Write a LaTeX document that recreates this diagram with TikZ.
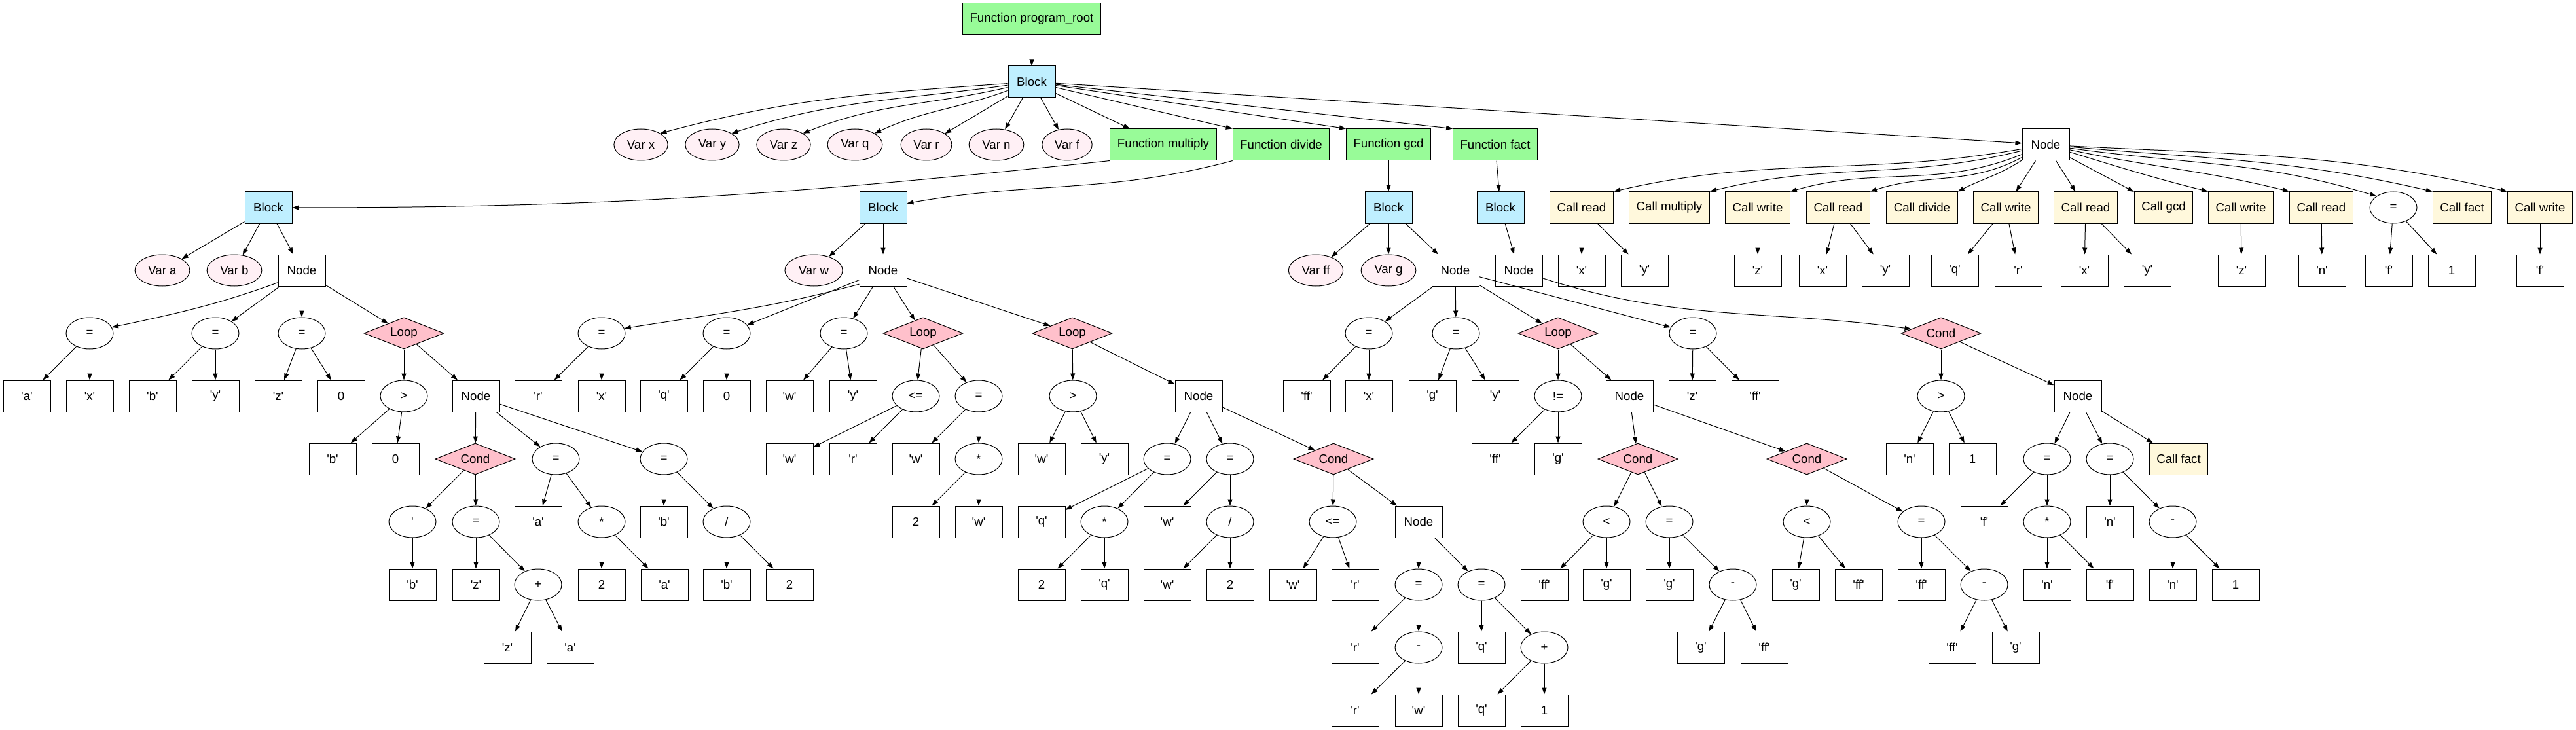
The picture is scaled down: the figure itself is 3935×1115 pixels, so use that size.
\documentclass[tikz,border=0pt]{standalone}
\usepackage{fontspec}
\newfontfamily\gvfont{Liberation Sans}
\usetikzlibrary{arrows.meta,shapes.geometric}
\definecolor{fngreen}{HTML}{98FB98}
\definecolor{blkblue}{HTML}{BFEFFF}
\definecolor{varpink}{HTML}{FFF0F5}
\definecolor{ctlpink}{HTML}{FFC0CB}
\definecolor{callyellow}{HTML}{FFF8DC}
\newcommand{\lit}[1]{\textquotesingle#1\textquotesingle}
\tikzset{
  every node/.style={font=\gvfont\fontsize{18.67pt}{22pt}\selectfont},
  nodebox/.style={draw, rectangle, minimum width=72pt, minimum height=48pt, inner xsep=11pt, inner ysep=0pt},
  fnbox/.style={nodebox, fill=fngreen},
  blkbox/.style={nodebox, fill=blkblue},
  callbox/.style={nodebox, fill=callyellow},
  opnode/.style={draw, ellipse, minimum width=72pt, minimum height=48pt, inner xsep=8pt, inner ysep=0pt},
  varnode/.style={opnode, fill=varpink},
  ctlnode/.style={draw, diamond, aspect=2.5, minimum width=122pt, minimum height=48pt, inner sep=0pt, fill=ctlpink},
  link/.style={-{Triangle[length=10pt,width=7pt]}},
}
\begin{document}
\begin{tikzpicture}[x=1pt,y=1pt,line width=1pt]
  \useasboundingbox (0,0) rectangle (3935,-1115);
  % rows 0-2
  \node[fnbox] (root) at (1576,-29) {Function program\_root};
  \node[blkbox] (blk0) at (1576,-125) {Block};
  \node[varnode] (vx) at (979,-221) {Var x};
  \node[varnode] (vy) at (1088,-221) {Var y};
  \node[varnode] (vz) at (1197,-221) {Var z};
  \node[varnode] (vq) at (1306,-221) {Var q};
  \node[varnode] (vr) at (1415,-221) {Var r};
  \node[varnode] (vn) at (1522,-221) {Var n};
  \node[varnode] (vf) at (1630,-221) {Var f};
  \node[fnbox] (fmul) at (1777,-221) {Function multiply};
  \node[fnbox] (fdiv) at (1957,-221) {Function divide};
  \node[fnbox] (fgcd) at (2121,-221) {Function gcd};
  \node[fnbox] (ffact) at (2284,-221) {Function fact};
  \node[nodebox] (nmain) at (3125,-221) {Node};
  % row 3
  \node[blkbox] (bmul) at (410,-317) {Block};
  \node[blkbox] (bdiv) at (1349,-317) {Block};
  \node[blkbox] (bgcd) at (2121,-317) {Block};
  \node[blkbox] (bfact) at (2292,-317) {Block};
  \node[callbox] (c1) at (2416,-317) {Call read};
  \node[callbox] (c2) at (2550,-317) {Call multiply};
  \node[callbox] (c3) at (2685,-317) {Call write};
  \node[callbox] (c4) at (2808,-317) {Call read};
  \node[callbox] (c5) at (2936,-317) {Call divide};
  \node[callbox] (c6) at (3064,-317) {Call write};
  \node[callbox] (c7) at (3186,-317) {Call read};
  \node[callbox] (c8) at (3305,-317) {Call gcd};
  \node[callbox] (c9) at (3423,-317) {Call write};
  \node[callbox] (c10) at (3546,-317) {Call read};
  \node[opnode] (asg) at (3656,-317) {=};
  \node[callbox] (c11) at (3761,-317) {Call fact};
  \node[callbox] (c12) at (3880,-317) {Call write};
  % row 4
  \node[varnode] (va) at (248,-413) {Var a};
  \node[varnode] (vb) at (358,-413) {Var b};
  \node[nodebox] (nmul) at (461,-413) {Node};
  \node[varnode] (vw) at (1243,-413) {Var w};
  \node[nodebox] (ndiv) at (1349,-413) {Node};
  \node[varnode] (vff) at (2010,-413) {Var ff};
  \node[varnode] (vg) at (2121,-413) {Var g};
  \node[nodebox] (ngcd) at (2223,-413) {Node};
  \node[nodebox] (nfact) at (2320,-413) {Node};
  \node[nodebox] (c1a) at (2416,-413) {\lit{x}};
  \node[nodebox] (c1b) at (2512,-413) {\lit{y}};
  \node[nodebox] (c3a) at (2685,-413) {\lit{z}};
  \node[nodebox] (c4a) at (2784,-413) {\lit{x}};
  \node[nodebox] (c4b) at (2880,-413) {\lit{y}};
  \node[nodebox] (c6a) at (2986,-413) {\lit{q}};
  \node[nodebox] (c6b) at (3083,-413) {\lit{r}};
  \node[nodebox] (c7a) at (3184,-413) {\lit{x}};
  \node[nodebox] (c7b) at (3280,-413) {\lit{y}};
  \node[nodebox] (c9a) at (3424,-413) {\lit{z}};
  \node[nodebox] (c10a) at (3547,-413) {\lit{n}};
  \node[nodebox] (asga) at (3649,-413) {\lit{f}};
  \node[nodebox] (asgb) at (3745,-413) {1};
  \node[nodebox] (c12a) at (3880,-413) {\lit{f}};
  % row 5
  \node[opnode] (m1) at (137,-509) {=};
  \node[opnode] (m2) at (329,-509) {=};
  \node[opnode] (m3) at (461,-509) {=};
  \node[ctlnode] (mloop) at (617,-509) {Loop};
  \node[opnode] (d1) at (919,-509) {=};
  \node[opnode] (d2) at (1110,-509) {=};
  \node[opnode] (d3) at (1289,-509) {=};
  \node[ctlnode] (dloop1) at (1410,-509) {Loop};
  \node[ctlnode] (dloop2) at (1638,-509) {Loop};
  \node[opnode] (g1) at (2091,-509) {=};
  \node[opnode] (g2) at (2224,-509) {=};
  \node[ctlnode] (gloop) at (2380,-509) {Loop};
  \node[opnode] (g3) at (2586,-509) {=};
  \node[ctlnode] (fcond) at (2965,-509) {Cond};
  % row 6
  \node[nodebox] (m1a) at (41,-605) {\lit{a}};
  \node[nodebox] (m1b) at (137,-605) {\lit{x}};
  \node[nodebox] (m2a) at (233,-605) {\lit{b}};
  \node[nodebox] (m2b) at (329,-605) {\lit{y}};
  \node[nodebox] (m3a) at (425,-605) {\lit{z}};
  \node[nodebox] (m3b) at (521,-605) {0};
  \node[opnode] (mgt) at (617,-605) {>};
  \node[nodebox] (mnode) at (727,-605) {Node};
  \node[nodebox] (d1a) at (822,-605) {\lit{r}};
  \node[nodebox] (d1b) at (919,-605) {\lit{x}};
  \node[nodebox] (d2a) at (1014,-605) {\lit{q}};
  \node[nodebox] (d2b) at (1110,-605) {0};
  \node[nodebox] (d3a) at (1206,-605) {\lit{w}};
  \node[nodebox] (d3b) at (1303,-605) {\lit{y}};
  \node[opnode] (dle) at (1399,-605) {<=};
  \node[opnode] (dset) at (1495,-605) {=};
  \node[opnode] (dgt) at (1639,-605) {>};
  \node[nodebox] (dnode) at (1831,-605) {Node};
  \node[nodebox] (g1a) at (1996,-605) {\lit{ff}};
  \node[nodebox] (g1b) at (2091,-605) {\lit{x}};
  \node[nodebox] (g2a) at (2188,-605) {\lit{g}};
  \node[nodebox] (g2b) at (2284,-605) {\lit{y}};
  \node[opnode] (gne) at (2380,-605) {!=};
  \node[nodebox] (gnode) at (2489,-605) {Node};
  \node[nodebox] (g3a) at (2585,-605) {\lit{z}};
  \node[nodebox] (g3b) at (2681,-605) {\lit{ff}};
  \node[opnode] (fgt) at (2965,-605) {>};
  \node[nodebox] (fnode) at (3174,-605) {Node};
  % row 7
  \node[nodebox] (mgta) at (508,-701) {\lit{b}};
  \node[nodebox] (mgtb) at (604,-701) {0};
  \node[ctlnode] (mcond) at (726,-701) {Cond};
  \node[opnode] (ma) at (849,-701) {=};
  \node[opnode] (mb) at (1014,-701) {=};
  \node[nodebox] (dlea) at (1206,-701) {\lit{w}};
  \node[nodebox] (dleb) at (1303,-701) {\lit{r}};
  \node[nodebox] (dseta) at (1399,-701) {\lit{w}};
  \node[opnode] (dmul) at (1495,-701) {*};
  \node[nodebox] (dgta) at (1591,-701) {\lit{w}};
  \node[nodebox] (dgtb) at (1687,-701) {\lit{y}};
  \node[opnode] (dq) at (1783,-701) {=};
  \node[opnode] (dr) at (1879,-701) {=};
  \node[ctlnode] (dcond) at (2037,-701) {Cond};
  \node[nodebox] (gnea) at (2284,-701) {\lit{ff}};
  \node[nodebox] (gneb) at (2380,-701) {\lit{g}};
  \node[ctlnode] (gc1) at (2502,-701) {Cond};
  \node[ctlnode] (gc2) at (2760,-701) {Cond};
  \node[nodebox] (fgta) at (2917,-701) {\lit{n}};
  \node[nodebox] (fgtb) at (3013,-701) {1};
  \node[opnode] (ff1) at (3127,-701) {=};
  \node[opnode] (fn1) at (3223,-701) {=};
  \node[callbox] (fcall) at (3328,-701) {Call fact};
  % row 8
  \node[opnode] (mnot) at (630,-797) {\textquotesingle};
  \node[opnode] (mz) at (727,-797) {=};
  \node[nodebox] (maa) at (822,-797) {\lit{a}};
  \node[opnode] (mmul) at (919,-797) {*};
  \node[nodebox] (mba) at (1014,-797) {\lit{b}};
  \node[opnode] (mdv) at (1110,-797) {/};
  \node[nodebox] (dmula) at (1399,-797) {2};
  \node[nodebox] (dmulb) at (1495,-797) {\lit{w}};
  \node[nodebox] (dqa) at (1591,-797) {\lit{q}};
  \node[opnode] (dqm) at (1687,-797) {*};
  \node[nodebox] (dra) at (1783,-797) {\lit{w}};
  \node[opnode] (drd) at (1879,-797) {/};
  \node[opnode] (dle2) at (2036,-797) {<=};
  \node[nodebox] (dnode2) at (2167,-797) {Node};
  \node[opnode] (glt1) at (2454,-797) {<};
  \node[opnode] (gset1) at (2550,-797) {=};
  \node[opnode] (glt2) at (2760,-797) {<};
  \node[opnode] (gset2) at (2935,-797) {=};
  \node[nodebox] (ff1a) at (3031,-797) {\lit{f}};
  \node[opnode] (fmul2) at (3127,-797) {*};
  \node[nodebox] (fn1a) at (3223,-797) {\lit{n}};
  \node[opnode] (fsub) at (3319,-797) {-};
  % row 9
  \node[nodebox] (mnota) at (630,-893) {\lit{b}};
  \node[nodebox] (mza) at (727,-893) {\lit{z}};
  \node[opnode] (madd) at (822,-893) {+};
  \node[nodebox] (mmula) at (919,-893) {2};
  \node[nodebox] (mmulb) at (1015,-893) {\lit{a}};
  \node[nodebox] (mdva) at (1110,-893) {\lit{b}};
  \node[nodebox] (mdvb) at (1206,-893) {2};
  \node[nodebox] (dqma) at (1591,-893) {2};
  \node[nodebox] (dqmb) at (1687,-893) {\lit{q}};
  \node[nodebox] (drda) at (1783,-893) {\lit{w}};
  \node[nodebox] (drdb) at (1879,-893) {2};
  \node[nodebox] (dle2a) at (1975,-893) {\lit{w}};
  \node[nodebox] (dle2b) at (2070,-893) {\lit{r}};
  \node[opnode] (dr2) at (2167,-893) {=};
  \node[opnode] (dq2) at (2263,-893) {=};
  \node[nodebox] (glt1a) at (2359,-893) {\lit{ff}};
  \node[nodebox] (glt1b) at (2454,-893) {\lit{g}};
  \node[nodebox] (gset1a) at (2550,-893) {\lit{g}};
  \node[opnode] (gsub1) at (2647,-893) {-};
  \node[nodebox] (glt2a) at (2743,-893) {\lit{g}};
  \node[nodebox] (glt2b) at (2839,-893) {\lit{ff}};
  \node[nodebox] (gset2a) at (2935,-893) {\lit{ff}};
  \node[opnode] (gsub2) at (3031,-893) {-};
  \node[nodebox] (fmul2a) at (3127,-893) {\lit{n}};
  \node[nodebox] (fmul2b) at (3223,-893) {\lit{f}};
  \node[nodebox] (fsuba) at (3319,-893) {\lit{n}};
  \node[nodebox] (fsubb) at (3415,-893) {1};
  % row 10
  \node[nodebox] (madda) at (775,-989) {\lit{z}};
  \node[nodebox] (maddb) at (871,-989) {\lit{a}};
  \node[nodebox] (dr2a) at (2070,-989) {\lit{r}};
  \node[opnode] (dsub) at (2167,-989) {-};
  \node[nodebox] (dq2a) at (2263,-989) {\lit{q}};
  \node[opnode] (dadd) at (2359,-989) {+};
  \node[nodebox] (gsub1a) at (2598,-989) {\lit{g}};
  \node[nodebox] (gsub1b) at (2695,-989) {\lit{ff}};
  \node[nodebox] (gsub2a) at (2982,-989) {\lit{ff}};
  \node[nodebox] (gsub2b) at (3079,-989) {\lit{g}};
  % row 11
  \node[nodebox] (dsuba) at (2070,-1085) {\lit{r}};
  \node[nodebox] (dsubb) at (2167,-1085) {\lit{w}};
  \node[nodebox] (dadda) at (2263,-1085) {\lit{q}};
  \node[nodebox] (daddb) at (2359,-1085) {1};

  % edges: top
  \draw[link] (root) -- (blk0);
  \draw[link] (blk0.184) .. controls +(184:210) and +(15:210) .. (vx.north east);
  \draw[link] (blk0.188) .. controls +(188:168) and +(18:168) .. (vy.north east);
  \draw[link] (blk0.193) .. controls +(193:125) and +(22:125) .. (vz.north east);
  \draw[link] (blk0.200) .. controls +(200:85) and +(25:85) .. (vq.north east);
  \draw[link] (blk0) -- (vr);
  \draw[link] (blk0) -- (vn);
  \draw[link] (blk0) -- (vf);
  \draw[link] (blk0) -- (fmul);
  \draw[link] (blk0) -- (fdiv.north west);
  \draw[link] (blk0) -- (fgcd.north west);
  \draw[link] (blk0) -- (ffact.north west);
  \draw[link] (blk0) -- (nmain);
  \draw[link] (fmul.south west) .. controls +(186:490) and +(0:490) .. (bmul.east);
  \draw[link] (fdiv.south west) .. controls +(195:196) and +(10:196) .. (bdiv.10);
  \draw[link] (fgcd) -- (bgcd);
  \draw[link] (ffact) -- (bfact);
  % edges: calls
  \draw[link] (nmain.190) .. controls +(190:245) and +(13:245) .. (c1.north east);
  \draw[link] (nmain.194) .. controls +(194:188) and +(14:188) .. (c2.north east);
  \draw[link] (nmain.202) .. controls +(202:141) and +(16:141) .. (c3.north east);
  \draw[link] (nmain.208) .. controls +(208:93) and +(18:93) .. (c4.north east);
  \draw[link] (nmain.213) .. controls +(213:43) and +(27:43) .. (c5.north east);
  \draw[link] (nmain) -- (c6);
  \draw[link] (nmain) -- (c7);
  \draw[link] (nmain) -- (c8);
  \draw[link] (nmain.343) .. controls +(343:87) and +(166:87) .. (c9.north west);
  \draw[link] (nmain.348) .. controls +(348:134) and +(166:134) .. (c10.north west);
  \draw[link] (nmain.352) .. controls +(352:186) and +(163:186) .. (asg.north west);
  \draw[link] (nmain.355) .. controls +(355:219) and +(167:219) .. (c11.north west);
  \draw[link] (nmain.357) .. controls +(357:263) and +(167:263) .. (c12.north west);
  \draw[link] (c1) -- (c1a);
  \draw[link] (c1) -- (c1b);
  \draw[link] (c3) -- (c3a);
  \draw[link] (c4) -- (c4a);
  \draw[link] (c4) -- (c4b);
  \draw[link] (c6) -- (c6a);
  \draw[link] (c6) -- (c6b);
  \draw[link] (c7) -- (c7a);
  \draw[link] (c7) -- (c7b);
  \draw[link] (c9) -- (c9a);
  \draw[link] (c10) -- (c10a);
  \draw[link] (asg) -- (asga);
  \draw[link] (asg) -- (asgb);
  \draw[link] (c12) -- (c12a);
  % edges: blocks
  \draw[link] (bmul) -- (va);
  \draw[link] (bmul) -- (vb);
  \draw[link] (bmul) -- (nmul);
  \draw[link] (bdiv) -- (vw);
  \draw[link] (bdiv) -- (ndiv);
  \draw[link] (bgcd) -- (vff);
  \draw[link] (bgcd) -- (vg);
  \draw[link] (bgcd) -- (ngcd);
  \draw[link] (bfact) -- (nfact);
  % edges: multiply
  \draw[link] (nmul.207) .. controls +(200:100) and +(12:100) .. (m1.15);
  \draw[link] (nmul) -- (m2);
  \draw[link] (nmul) -- (m3);
  \draw[link] (nmul) -- (mloop);
  \draw[link] (m1) -- (m1a);
  \draw[link] (m1) -- (m1b);
  \draw[link] (m2) -- (m2a);
  \draw[link] (m2) -- (m2b);
  \draw[link] (m3) -- (m3a);
  \draw[link] (m3) -- (m3b);
  \draw[link] (mloop) -- (mgt);
  \draw[link] (mloop) -- (mnode);
  \draw[link] (mgt) -- (mgta);
  \draw[link] (mgt) -- (mgtb);
  \draw[link] (mnode) -- (mcond);
  \draw[link] (mnode) -- (ma);
  \draw[link] (mnode) -- (mb);
  \draw[link] (mcond) -- (mnot);
  \draw[link] (mcond) -- (mz);
  \draw[link] (ma) -- (maa);
  \draw[link] (ma) -- (mmul);
  \draw[link] (mb) -- (mba);
  \draw[link] (mb) -- (mdv);
  \draw[link] (mnot) -- (mnota);
  \draw[link] (mz) -- (mza);
  \draw[link] (mz) -- (madd);
  \draw[link] (mmul) -- (mmula);
  \draw[link] (mmul) -- (mmulb);
  \draw[link] (mdv) -- (mdva);
  \draw[link] (mdv) -- (mdvb);
  \draw[link] (madd) -- (madda);
  \draw[link] (madd) -- (maddb);
  % edges: divide
  \draw[link] (ndiv.210) .. controls +(195:140) and +(9:140) .. (d1.12);
  \draw[link] (ndiv) -- (d2);
  \draw[link] (ndiv) -- (d3);
  \draw[link] (ndiv) -- (dloop1);
  \draw[link] (ndiv) -- (dloop2);
  \draw[link] (d1) -- (d1a);
  \draw[link] (d1) -- (d1b);
  \draw[link] (d2) -- (d2a);
  \draw[link] (d2) -- (d2b);
  \draw[link] (d3) -- (d3a);
  \draw[link] (d3) -- (d3b);
  \draw[link] (dloop1) -- (dle);
  \draw[link] (dloop1) -- (dset);
  \draw[link] (dloop2) -- (dgt);
  \draw[link] (dloop2) -- (dnode);
  \draw[link] (dle) -- (dlea);
  \draw[link] (dle) -- (dleb);
  \draw[link] (dset) -- (dseta);
  \draw[link] (dset) -- (dmul);
  \draw[link] (dgt) -- (dgta);
  \draw[link] (dgt) -- (dgtb);
  \draw[link] (dnode) -- (dq);
  \draw[link] (dnode) -- (dr);
  \draw[link] (dnode) -- (dcond);
  \draw[link] (dmul) -- (dmula);
  \draw[link] (dmul) -- (dmulb);
  \draw[link] (dq) -- (dqa);
  \draw[link] (dq) -- (dqm);
  \draw[link] (dr) -- (dra);
  \draw[link] (dr) -- (drd);
  \draw[link] (dcond) -- (dle2);
  \draw[link] (dcond) -- (dnode2);
  \draw[link] (dqm) -- (dqma);
  \draw[link] (dqm) -- (dqmb);
  \draw[link] (drd) -- (drda);
  \draw[link] (drd) -- (drdb);
  \draw[link] (dle2) -- (dle2a);
  \draw[link] (dle2) -- (dle2b);
  \draw[link] (dnode2) -- (dr2);
  \draw[link] (dnode2) -- (dq2);
  \draw[link] (dr2) -- (dr2a);
  \draw[link] (dr2) -- (dsub);
  \draw[link] (dq2) -- (dq2a);
  \draw[link] (dq2) -- (dadd);
  \draw[link] (dsub) -- (dsuba);
  \draw[link] (dsub) -- (dsubb);
  \draw[link] (dadd) -- (dadda);
  \draw[link] (dadd) -- (daddb);
  % edges: gcd
  \draw[link] (ngcd) -- (g1);
  \draw[link] (ngcd) -- (g2);
  \draw[link] (ngcd) -- (gloop);
  \draw[link] (ngcd) -- (g3);
  \draw[link] (g1) -- (g1a);
  \draw[link] (g1) -- (g1b);
  \draw[link] (g2) -- (g2a);
  \draw[link] (g2) -- (g2b);
  \draw[link] (g3) -- (g3a);
  \draw[link] (g3) -- (g3b);
  \draw[link] (gloop) -- (gne);
  \draw[link] (gloop) -- (gnode);
  \draw[link] (gne) -- (gnea);
  \draw[link] (gne) -- (gneb);
  \draw[link] (gnode) -- (gc1);
  \draw[link] (gnode) -- (gc2);
  \draw[link] (gc1) -- (glt1);
  \draw[link] (gc1) -- (gset1);
  \draw[link] (gc2) -- (glt2);
  \draw[link] (gc2) -- (gset2);
  \draw[link] (glt1) -- (glt1a);
  \draw[link] (glt1) -- (glt1b);
  \draw[link] (gset1) -- (gset1a);
  \draw[link] (gset1) -- (gsub1);
  \draw[link] (glt2) -- (glt2a);
  \draw[link] (glt2) -- (glt2b);
  \draw[link] (gset2) -- (gset2a);
  \draw[link] (gset2) -- (gsub2);
  \draw[link] (gsub1) -- (gsub1a);
  \draw[link] (gsub1) -- (gsub1b);
  \draw[link] (gsub2) -- (gsub2a);
  \draw[link] (gsub2) -- (gsub2b);
  % edges: fact
  \draw[link] (nfact.342) .. controls +(342:217) and +(172:217) .. (fcond.172);
  \draw[link] (fcond) -- (fgt);
  \draw[link] (fcond) -- (fnode);
  \draw[link] (fgt) -- (fgta);
  \draw[link] (fgt) -- (fgtb);
  \draw[link] (fnode) -- (ff1);
  \draw[link] (fnode) -- (fn1);
  \draw[link] (fnode) -- (fcall);
  \draw[link] (ff1) -- (ff1a);
  \draw[link] (ff1) -- (fmul2);
  \draw[link] (fn1) -- (fn1a);
  \draw[link] (fn1) -- (fsub);
  \draw[link] (fmul2) -- (fmul2a);
  \draw[link] (fmul2) -- (fmul2b);
  \draw[link] (fsub) -- (fsuba);
  \draw[link] (fsub) -- (fsubb);
\end{tikzpicture}
\end{document}
